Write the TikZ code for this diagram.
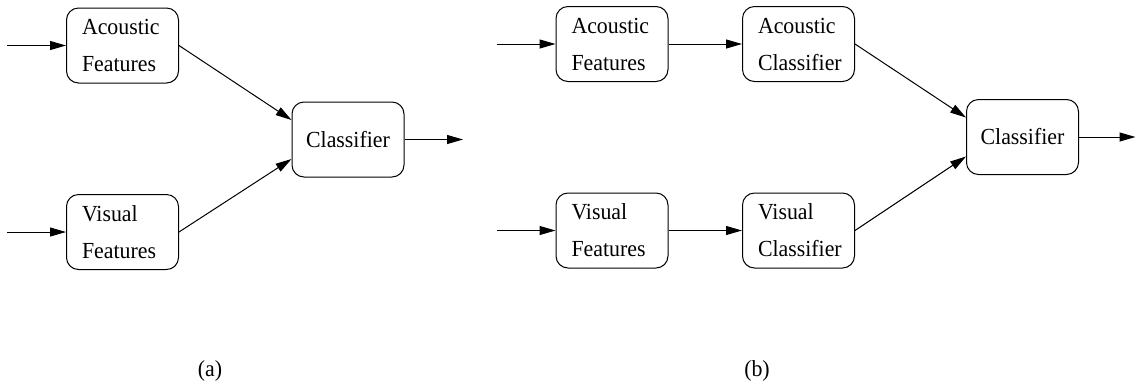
\documentclass[tikz,border=0pt]{standalone}
\usepackage{fontspec}
\setmainfont{Liberation Serif}[FakeStretch=0.95]
\usetikzlibrary{arrows.meta}
\begin{document}
\begin{tikzpicture}[x=0.5pt,y=-0.5pt,
  blk/.style={draw, line width=0.5pt, rounded corners=6pt, minimum width=56pt,
    minimum height=37.5pt, inner sep=0pt, text width=40.5pt, align=left,
    font=\fontsize{11.5}{18.5}\selectfont},
  clsbox/.style={draw, line width=0.5pt, rounded corners=6pt, minimum width=56pt,
    minimum height=37.5pt, inner sep=0pt, font=\fontsize{11.5}{13}\selectfont},
  conn/.style={line width=0.5pt, -{Triangle[length=8pt,width=4.5pt]}},
  lbl/.style={font=\fontsize{11.5}{13}\selectfont}]
\useasboundingbox (0,0) rectangle (1136,387);

% (a)
\node[blk] (aaf) at (122.5,45.5) {Acoustic\\Features};
\node[blk] (avf) at (122.5,232) {Visual\\Features};
\node[clsbox] (acl) at (348,139.5) {Classifier};
\coordinate (ain1) at (7,45.5);
\coordinate (ain2) at (7,232);
\coordinate (aout) at (463,139.5);
\draw[conn] (ain1) -- (aaf.west);
\draw[conn] (ain2) -- (avf.west);
\draw[conn] (aaf.east) -- ([yshift=9.75pt]acl.west);
\draw[conn] (avf.east) -- ([yshift=-9.75pt]acl.west);
\draw[conn] (acl.east) -- (aout);
\node[lbl] (la) at (210,371) {(a)};

% (b)
\node[blk] (baf) at (612,44) {Acoustic\\Features};
\node[blk] (bac) at (798.5,44) {Acoustic\\Classifier};
\node[blk] (bvf) at (612,230.5) {Visual\\Features};
\node[blk] (bvc) at (798.5,230.5) {Visual\\Classifier};
\node[clsbox] (bcl) at (1022.5,137) {Classifier};
\coordinate (bin1) at (497,44);
\coordinate (bin2) at (497,230.5);
\coordinate (bout) at (1135.5,137);
\draw[conn] (bin1) -- (baf.west);
\draw[conn] (bin2) -- (bvf.west);
\draw[conn] (baf.east) -- (bac.west);
\draw[conn] (bvf.east) -- (bvc.west);
\draw[conn] (bac.east) -- ([yshift=9.75pt]bcl.west);
\draw[conn] (bvc.east) -- ([yshift=-9.75pt]bcl.west);
\draw[conn] (bcl.east) -- (bout);
\node[lbl] (lb) at (757,371) {(b)};
\end{tikzpicture}
\end{document}
